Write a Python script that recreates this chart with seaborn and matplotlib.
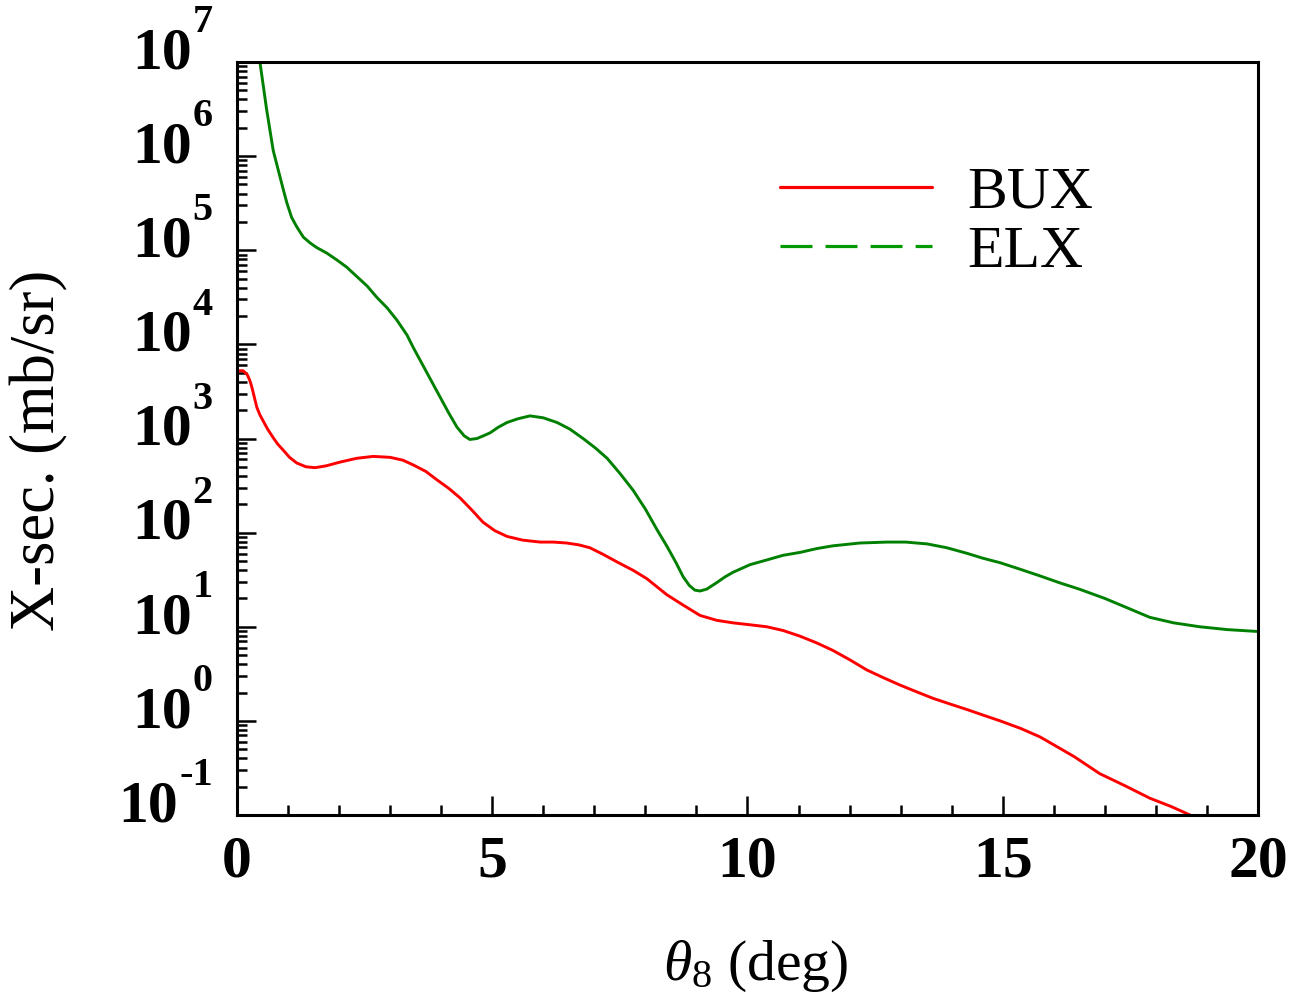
import numpy as np
import pandas as pd
import matplotlib
matplotlib.use('Agg')
import matplotlib.pyplot as plt
import matplotlib.ticker as mticker
from matplotlib.lines import Line2D
import seaborn as sns

# angles (deg) and cross sections (mb/sr)
bux_x = [0.0, 0.05, 0.12, 0.2, 0.25, 0.29, 0.34, 0.39, 0.45, 0.51, 0.6, 0.71, 0.8, 0.9,
         1.03, 1.17, 1.35, 1.53, 1.75, 2.02, 2.35, 2.67, 3.0, 3.25, 3.45, 3.7, 3.92, 4.15,
         4.37, 4.6, 4.82, 5.05, 5.29, 5.6, 5.94, 6.2, 6.46, 6.7, 6.91, 7.17, 7.44, 7.76,
         8.03, 8.42, 8.74, 9.07, 9.4, 9.72, 10.05, 10.38, 10.7, 11.03, 11.35, 11.67, 12.0,
         12.34, 12.66, 12.99, 13.31, 13.63, 13.97, 14.3, 14.62, 14.95, 15.35, 15.73, 16.05,
         16.4, 16.9, 17.4, 17.88, 18.3, 18.67, 19.0]
bux_y = [4.9e3, 5.25e3, 5.25e3, 4.79e3, 4.17e3, 3.55e3, 2.75e3, 2.14e3, 1.78e3, 1.55e3,
         1.26e3, 1.02e3, 871, 759, 631, 550, 501, 490, 513, 562, 617, 646, 631, 589, 525,
         447, 363, 295, 234, 174, 129, 105, 91.2, 83.2, 79.4, 79.4, 77.6, 74.1, 69.2, 58.9,
         49.0, 39.8, 32.4, 21.9, 17.0, 13.2, 11.7, 11.0, 10.5, 10.0, 9.12, 7.94, 6.76, 5.62,
         4.47, 3.47, 2.88, 2.40, 2.04, 1.74, 1.51, 1.32, 1.15, 1.0, 0.832, 0.676, 0.537,
         0.417, 0.275, 0.204, 0.151, 0.123, 0.100, 0.083]

elx_x = [0.40, 0.45, 0.58, 0.71, 0.81, 0.91, 0.98, 1.07, 1.17, 1.30, 1.43, 1.56, 1.76, 1.95,
         2.15, 2.35, 2.55, 2.74, 2.94, 3.13, 3.33, 3.46, 3.72, 3.98, 4.15, 4.31, 4.45, 4.56,
         4.7, 4.83, 4.96, 5.12, 5.29, 5.5, 5.74, 6.0, 6.27, 6.52, 6.78, 7.02, 7.25, 7.5,
         7.76, 8.0, 8.23, 8.42, 8.6, 8.74, 8.86, 8.97, 9.07, 9.2, 9.4, 9.56, 9.72, 10.05,
         10.38, 10.7, 11.03, 11.35, 11.67, 12.2, 12.73, 13.1, 13.52, 13.9, 14.3, 14.6,
         14.95, 15.35, 15.73, 16.1, 16.5, 17.0, 17.45, 17.88, 18.35, 18.86, 19.4, 20.0]
elx_y = [2.0e7, 1.0e7, 3.16e6, 1.15e6, 7.08e5, 4.37e5, 3.16e5, 2.24e5, 1.78e5, 1.38e5,
         1.20e5, 1.07e5, 9.33e4, 7.94e4, 6.61e4, 5.25e4, 4.17e4, 3.16e4, 2.45e4, 1.82e4,
         1.26e4, 9.12e3, 5.01e3, 2.75e3, 1.86e3, 1.32e3, 1.07e3, 977, 1.0e3, 1.07e3, 1.15e3,
         1.32e3, 1.48e3, 1.62e3, 1.74e3, 1.66e3, 1.48e3, 1.26e3, 1.0e3, 794, 617, 427, 282,
         178, 107, 72, 48, 34, 27.5, 24.5, 24, 25.1, 29.5, 33.9, 38, 45.7, 51.3, 57.5, 61.7,
         67.6, 72.4, 77.6, 79.4, 79.4, 75.9, 69.2, 60.3, 53.7, 47.9, 40.7, 34.7, 29.5, 25.1,
         20.0, 15.8, 12.6, 11.0, 10.0, 9.33, 8.91]

labels = ['BUX', 'ELX']
decades = list(range(-1, 8))
red = '#ff0000'
green = '#008000'

sns.set_style('ticks')
plt.rcParams['font.family'] = ['Liberation Serif', 'DejaVu Serif']
plt.rcParams['mathtext.fontset'] = 'custom'
plt.rcParams['mathtext.rm'] = 'Liberation Serif'
plt.rcParams['mathtext.it'] = 'Liberation Serif:italic'
plt.rcParams['mathtext.bf'] = 'Liberation Serif:bold'
for k in ['text.color', 'axes.labelcolor', 'xtick.color', 'ytick.color', 'axes.edgecolor']:
    plt.rcParams[k] = 'black'

fig = plt.figure(figsize=(12.92, 10.02), dpi=100)
ax = fig.add_axes([0.1834, 0.1866, 0.7903, 0.7515])

sns.lineplot(x=bux_x, y=bux_y, ax=ax, color=red, lw=2.1, estimator=None, sort=False)
sns.lineplot(x=elx_x, y=elx_y, ax=ax, color=green, lw=2.1, estimator=None, sort=False)

ax.set_yscale('log')
ax.set_xlim(0, 20)
ax.set_ylim(1e-1, 1e7)

ax.xaxis.set_major_locator(mticker.MultipleLocator(5))
ax.xaxis.set_minor_locator(mticker.MultipleLocator(1))
ax.yaxis.set_major_locator(mticker.LogLocator(base=10, numticks=20))
ax.yaxis.set_minor_locator(mticker.LogLocator(base=10, subs=np.arange(2, 10), numticks=20))
ax.yaxis.set_minor_formatter(mticker.NullFormatter())
ax.yaxis.set_major_formatter(mticker.NullFormatter())

ax.tick_params(axis='both', which='both', direction='in', top=False, right=False, width=1.8)
ax.tick_params(axis='both', which='major', length=13.5, labelsize=43)
ax.tick_params(axis='both', which='minor', length=7)
ax.tick_params(axis='x', pad=15)
for t in ax.get_xticklabels():
    t.set_fontweight('bold')

# y tick labels: "10" with a raised exponent
for e in decades:
    exp = ax.annotate(str(e), xy=(0, 10.0 ** e), xycoords=('axes fraction', 'data'),
                      xytext=(-17.3, 21.5), textcoords='offset points', ha='right',
                      va='baseline', fontsize=29, fontweight='bold', annotation_clip=False)
    ax.annotate('10', xy=(0, 10.0 ** e), xycoords=(exp, 'data'), xytext=(-0.5, -4.5),
                textcoords='offset points', ha='right', va='baseline', fontsize=43,
                fontweight='bold', annotation_clip=False)

for s in ax.spines.values():
    s.set_linewidth(2.2)

ax.set_xlabel(r'$\theta_{8}$ (deg)', fontsize=41.5)
ax.xaxis.set_label_coords(0.508, -0.164)
ax.xaxis.label.set_va('top')
ax.set_ylabel('X-sec. (mb/sr)', fontsize=45)
ax.yaxis.set_label_coords(-0.1655, 0.4847)

handles = [Line2D([], [], color=red, lw=2.3),
           Line2D([], [], color='#009900', lw=2.3, ls=(0, (10, 4.1)))]
ax.legend(handles, labels, loc='upper left', bbox_to_anchor=(780 / 1292, 1 - 166 / 1002),
          bbox_transform=fig.transFigure, frameon=False, fontsize=43, handlelength=2.55,
          handletextpad=0.58, labelspacing=0.08, borderpad=0, borderaxespad=0)

fig.savefig('out.png', dpi=100)
